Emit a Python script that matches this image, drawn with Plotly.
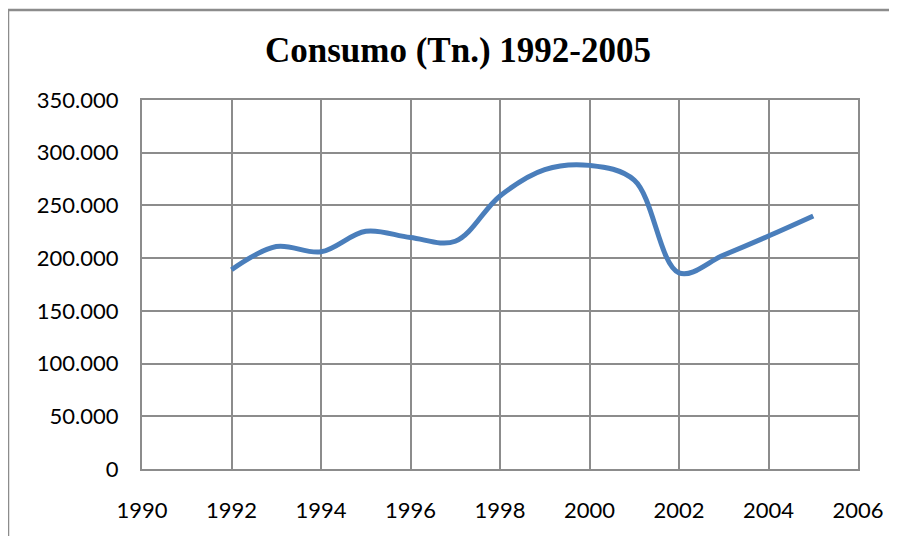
import plotly.graph_objects as go

years = [1992, 1993, 1994, 1995, 1996, 1997, 1998, 1999, 2000, 2001, 2002, 2003, 2004, 2005]
consumo = [189000, 211000, 206000, 225500, 219500, 216000, 259000, 284000, 288000, 274000, 186000, 203000, 221000, 240000]
x_ticks = [1990, 1992, 1994, 1996, 1998, 2000, 2002, 2004, 2006]
y_ticks = [0, 50000, 100000, 150000, 200000, 250000, 300000, 350000]

grid = "#8c8c8c"

fig = go.Figure()
fig.add_trace(go.Scatter(
    x=years, y=consumo, mode="lines",
    line=dict(color="#4a7ebb", width=5, shape="spline", smoothing=1.0),
    showlegend=False, hoverinfo="skip"
))

OFF = 8  # default page body margin
W, H = 897 - 2 * OFF, 544 - 2 * OFF
L = 142 - OFF
T = 100 - OFF
R = OFF + W - 858
B = OFF + H - 469
pw, ph = W - L - R, H - T - B

def px(xp):
    return (xp - OFF - L) / pw

def py(yp):
    return (H - B - (yp - OFF)) / ph

fig.update_layout(
    width=W, height=H,
    margin=dict(l=L, r=R, t=T, b=B, autoexpand=False),
    paper_bgcolor="white", plot_bgcolor="white",
    separators=",.",
    title=dict(text="<b>Consumo (Tn.) 1992-2005</b>", x=(458 - OFF) / W, xref="container",
               xanchor="center", y=1 - (50 - OFF) / H, yref="container", yanchor="middle",
               font=dict(family="Liberation Serif", size=35, color="black")),
    xaxis=dict(range=[1990, 2006], tickvals=x_ticks, ticktext=[str(v) for v in x_ticks],
               showgrid=True, gridcolor=grid, gridwidth=1.5,
               showline=True, linecolor=grid, linewidth=2, mirror=True,
               ticks="", ticklabelstandoff=21, automargin=False,
               tickfont=dict(family="Lato", size=22, color="black"), zeroline=False),
    yaxis=dict(range=[0, 350000], tickvals=y_ticks, tickformat=",.0f",
               showgrid=True, gridcolor=grid, gridwidth=1.5,
               showline=True, linecolor=grid, linewidth=2, mirror=True,
               ticks="", ticklabelstandoff=17, automargin=False,
               tickfont=dict(family="Lato", size=22, color="black"), zeroline=False),
    shapes=[dict(type="rect", xref="paper", yref="paper",
                 x0=px(8), x1=px(920), y0=py(580), y1=py(10),
                 line=dict(color="#8c8c8c", width=2.5), fillcolor="rgba(0,0,0,0)", layer="below")],
)

fig.write_html("out.html")
